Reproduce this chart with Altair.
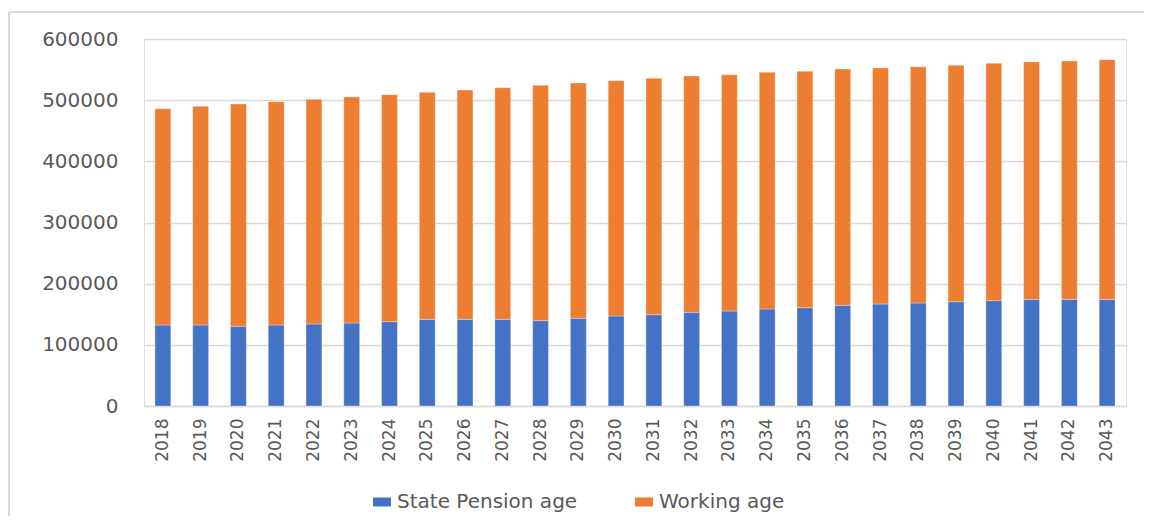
import altair as alt
import pandas as pd

years = [str(y) for y in range(2018, 2044)]
state_pension_age = [132400, 132400, 130300, 132400, 134100, 135700, 137900, 141700, 141700, 141700,
                     139500, 143300, 147100, 149300, 153100, 155300, 158600, 160700, 164600, 166800,
                     168400, 170600, 172200, 174400, 174400, 174400]
working_age = [353600, 357600, 363400, 365100, 367300, 369500, 371100, 371100, 374900, 378700,
               384800, 384800, 384700, 386400, 386400, 386300, 386900, 386500, 386400, 385800,
               386300, 386400, 388100, 388000, 389600, 391800]
series = ["State Pension age", "Working age"]
colors = ["#4472C4", "#ED7D31"]
y_ticks = [0, 100000, 200000, 300000, 400000, 500000, 600000]

rows = []
for i, yr in enumerate(years):
    rows.append({"year": yr, "group": series[0], "value": state_pension_age[i], "ord": 0})
    rows.append({"year": yr, "group": series[1], "value": working_age[i], "ord": 1})
df = pd.DataFrame(rows)

GRAY = "#d9d9d9"
TXT = "#595959"

bars = alt.Chart(df).mark_bar(stroke="#ffffff", strokeOpacity=0.4, strokeWidth=0.8).encode(
    x=alt.X("year:N", sort=years,
            scale=alt.Scale(paddingInner=0.58, paddingOuter=0.29),
            axis=alt.Axis(title=None, labelAngle=-90, labelFontSize=17, labelColor=TXT,
                          labelPadding=12, ticks=False, domainColor=GRAY, domainWidth=1.5,
                          labelFont="DejaVu Sans")),
    y=alt.Y("value:Q", stack="zero",
            scale=alt.Scale(domain=[0, 600000], nice=False),
            axis=alt.Axis(title=None, values=y_ticks, format="d", labelFontSize=20,
                          labelColor=TXT, labelPadding=26, ticks=False, domain=False,
                          gridColor=GRAY, gridWidth=1.5, labelFont="DejaVu Sans")),
    color=alt.Color("group:N",
                    scale=alt.Scale(domain=series, range=colors),
                    legend=alt.Legend(title=None, orient="none", direction="horizontal",
                                      legendX=228, legendY=453,
                                      symbolType="M-1,-0.5H1V0.5H-1Z", symbolSize=324,
                                      symbolStrokeWidth=0, labelFontSize=20, labelColor=TXT,
                                      labelFont="DejaVu Sans", labelOffset=5,
                                      labelLimit=500, columnPadding=56)),
    order=alt.Order("ord:Q"),
)

frame_df = pd.DataFrame({"k": [0]})
left_border = alt.Chart(frame_df).mark_rule(color=GRAY, strokeWidth=2).encode(
    x=alt.value(-135), y=alt.value(-27), y2=alt.value(480))
top_border = alt.Chart(frame_df).mark_rule(color=GRAY, strokeWidth=2).encode(
    x=alt.value(-135), x2=alt.value(1000), y=alt.value(-27))

chart = alt.layer(bars, left_border, top_border).properties(
    width=982, height=367,
    autosize=alt.AutoSizeParams(type="none"),
    padding={"left": 136, "top": 31, "right": 18, "bottom": 110},
    background="white",
).configure_view(strokeWidth=0).configure(font="DejaVu Sans")

chart.save("out.html", embed_options={"renderer": "svg", "actions": False})
